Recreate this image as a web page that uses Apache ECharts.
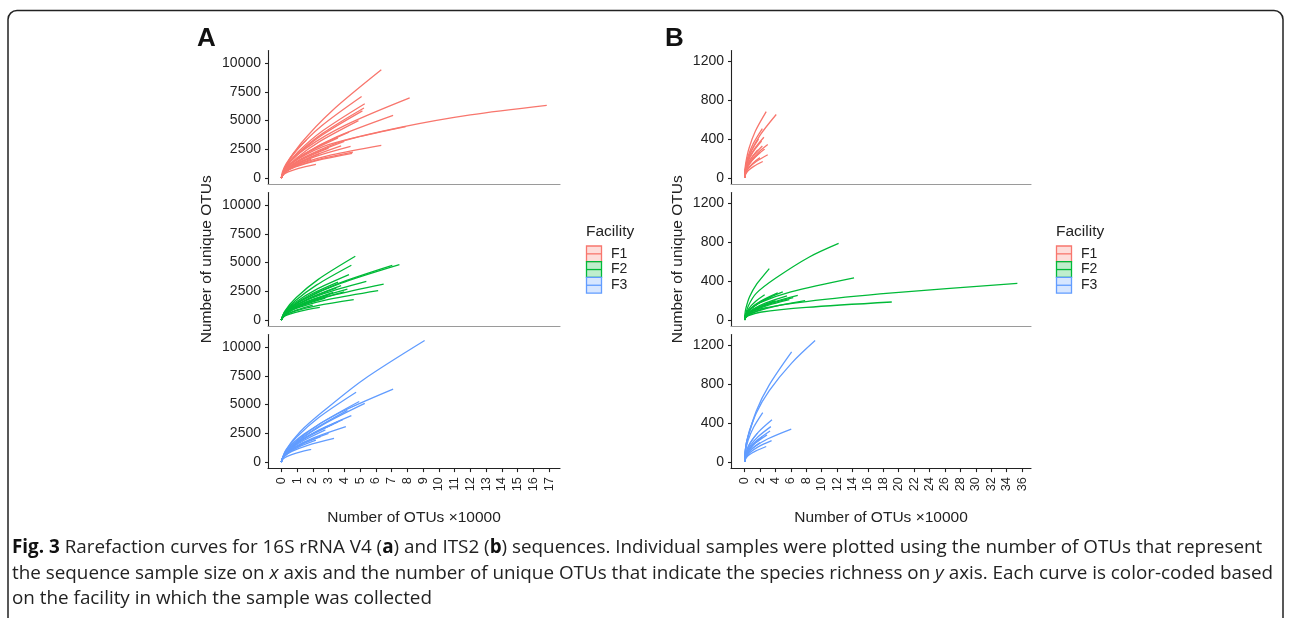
<!DOCTYPE html>
<html>
<head>
<meta charset="utf-8">
<script src="https://cdn.jsdelivr.net/npm/echarts@6/dist/echarts.min.js"></script>
<style>
html,body{margin:0;padding:0;background:#fff;}
#chart{width:1290px;height:618px;}
</style>
</head>
<body>
<div id="chart"></div>
<script>
// ---------- DATA ----------
const facilities = ['F1', 'F2', 'F3'];
const facilityColors = ['#F8766D', '#00BA38', '#619CFF'];

// Panel A: 16S rRNA V4 — each curve is a list of [OTUs ×10000, unique OTUs] (origin added at draw time)
const A_F1 = [
  [[0.32,1160],[1.27,3050],[3.18,5800],[6.35,9420]],
  [[0.26,1020],[1.02,2480],[2.55,4530],[5.1,7100]],
  [[0.41,1180],[1.63,2650],[4.08,4600],[8.15,6970]],
  [[0.27,930],[1.06,2260],[2.65,4130],[5.3,6470]],
  [[0.26,880],[1.05,2130],[2.63,3890],[5.25,6100]],
  [[0.26,840],[1.03,2040],[2.58,3730],[5.15,5850]],
  [[0.36,920],[1.42,2070],[3.55,3600],[7.1,5450]],
  [[0.3,800],[1.0,1600],[3.0,2900],[7.7,4450],[12.0,5500],[16.85,6330]],
  [[0.4,850],[1.6,1900],[4.0,3250],[7.9,4480]],
  [[0.22,680],[0.86,1520],[2.15,2640],[4.3,4000]],
  [[0.32,640],[1.27,1270],[3.18,2010],[6.35,2850]],
  [[0.22,530],[0.88,1130],[2.2,1880],[4.4,2750]],
  [[0.23,500],[0.91,1010],[2.28,1590],[4.55,2250]],
  [[0.23,480],[0.9,960],[2.25,1520],[4.5,2150]],
  [[0.11,270],[0.44,530],[1.1,840],[2.2,1190]],
  [[0.18,600],[0.72,1330],[1.8,2310],[3.6,3500]],
  [[0.15,440],[0.6,990],[1.5,1720],[3.0,2600]],
  [[0.12,360],[0.48,800],[1.2,1390],[2.4,2100]],
  [[0.1,280],[0.38,630],[0.95,1090],[1.9,1650]],
  [[0.2,540],[0.8,1220],[2.0,2110],[4.0,3200]],
  [[0.25,710],[0.98,1750],[2.45,3190],[4.9,5000]],
  [[0.08,560],[0.32,1260],[0.8,2180],[1.6,3300]],
  [[0.19,470],[0.76,1070],[1.9,1850],[3.8,2800]]
];
const A_F2 = [
  [[0.24,800],[0.94,1940],[2.35,3540],[4.7,5550]],
  [[0.22,690],[0.89,1670],[2.23,3040],[4.45,4770]],
  [[0.38,810],[1.5,1830],[3.75,3180],[7.5,4820]],
  [[0.35,800],[1.41,1810],[3.53,3130],[7.05,4750]],
  [[0.22,670],[0.86,1500],[2.15,2610],[4.3,3950]],
  [[0.27,650],[1.08,1390],[2.7,2300],[5.4,3370]],
  [[0.33,600],[1.3,1290],[3.25,2140],[6.5,3130]],
  [[0.31,570],[1.23,1140],[3.08,1810],[6.15,2560]],
  [[0.23,400],[0.92,800],[2.3,1260],[4.6,1780]],
  [[0.12,250],[0.49,490],[1.23,780],[2.45,1100]],
  [[0.21,520],[0.84,1110],[2.1,1840],[4.2,2700]],
  [[0.18,470],[0.7,1070],[1.75,1850],[3.5,2800]],
  [[0.15,420],[0.6,900],[1.5,1500],[3.0,2200]],
  [[0.14,360],[0.56,780],[1.4,1290],[2.8,1900]],
  [[0.19,510],[0.76,1140],[1.9,1980],[3.8,3000]],
  [[0.1,250],[0.4,530],[1.0,880],[2.0,1300]],
  [[0.2,470],[0.8,1010],[2.0,1670],[4.0,2450]],
  [[0.17,410],[0.66,910],[1.65,1580],[3.3,2400]],
  [[0.18,560],[0.72,1260],[1.8,2180],[3.6,3300]]
];
const A_F3 = [
  [[0.3,1050],[1.2,2640],[2.64,4390],[5.19,7150],[9.1,10580]],
  [[0.36,1060],[1.42,2410],[3.55,4180],[7.1,6340]],
  [[0.24,870],[0.95,2130],[2.38,3880],[4.75,6080]],
  [[0.25,760],[0.99,1840],[2.48,3360],[4.95,5270]],
  [[0.27,730],[1.06,1780],[2.65,3250],[5.3,5100]],
  [[0.22,680],[0.89,1540],[2.23,2670],[4.45,4040]],
  [[0.21,600],[0.82,1270],[2.05,2100],[4.1,3080]],
  [[0.17,460],[0.67,920],[1.68,1460],[3.35,2060]],
  [[0.1,250],[0.38,490],[0.95,780],[1.9,1100]],
  [[0.18,600],[0.72,1330],[1.8,2310],[3.6,3500]],
  [[0.17,560],[0.66,1260],[1.65,2180],[3.3,3300]],
  [[0.14,480],[0.56,1070],[1.4,1850],[2.8,2800]],
  [[0.15,480],[0.6,1030],[1.5,1710],[3.0,2500]],
  [[0.13,420],[0.5,910],[1.25,1500],[2.5,2200]],
  [[0.2,630],[0.78,1410],[1.95,2440],[3.9,3700]],
  [[0.11,360],[0.44,790],[1.1,1300],[2.2,1900]],
  [[0.21,650],[0.84,1570],[2.1,2860],[4.2,4500]]
];

// Panel B: ITS2
const B_F1 = [
  [[0.03,70],[0.14,155],[0.56,305],[1.4,485],[2.8,685]],
  [[0.04,52],[0.21,125],[0.82,270],[2.05,447],[4.1,655]],
  [[0.02,51],[0.12,115],[0.46,228],[1.15,360],[2.3,510]],
  [[0.03,42],[0.13,94],[0.5,188],[1.25,297],[2.5,420]],
  [[0.03,35],[0.15,77],[0.6,154],[1.5,244],[3.0,345]],
  [[0.02,33],[0.12,74],[0.46,148],[1.15,233],[2.3,330]],
  [[0.03,24],[0.15,54],[0.6,107],[1.5,170],[3.0,240]],
  [[0.02,17],[0.12,38],[0.47,76],[1.18,120],[2.35,170]],
  [[0.02,21],[0.1,47],[0.4,94],[1.0,148],[2.0,210]],
  [[0.02,40],[0.09,90],[0.36,179],[0.9,283],[1.8,400]],
  [[0.02,38],[0.11,85],[0.44,170],[1.1,269],[2.2,380]],
  [[0.02,29],[0.09,65],[0.34,130],[0.85,205],[1.7,290]],
  [[0.03,30],[0.13,67],[0.52,134],[1.3,212],[2.6,300]],
  [[0.02,26],[0.1,58],[0.4,116],[1.0,184],[2.0,260]]
];
const B_F2 = [
  [[0.1,50],[0.5,150],[1.5,275],[4.0,430],[8.4,650],[12.2,790]],
  [[0.03,55],[0.16,120],[0.64,240],[1.6,375],[3.2,530]],
  [[0.1,40],[0.5,100],[2.0,180],[6.0,290],[14.2,435]],
  [[0.1,30],[0.5,70],[2.0,115],[8.0,190],[19.2,279],[35.4,378]],
  [[0.1,20],[0.5,45],[2.0,80],[8.0,130],[19.1,186]],
  [[0.08,20],[0.39,45],[1.57,89],[3.93,141],[7.85,200]],
  [[0.07,26],[0.35,57],[1.38,114],[3.45,180],[6.9,255]],
  [[0.05,29],[0.25,65],[0.99,130],[2.48,205],[4.95,290]],
  [[0.04,28],[0.22,63],[0.86,125],[2.15,198],[4.3,280]],
  [[0.03,26],[0.13,58],[0.52,116],[1.3,184],[2.6,260]],
  [[0.06,23],[0.32,51],[1.26,103],[3.15,163],[6.3,230]],
  [[0.06,21],[0.29,47],[1.16,94],[2.9,148],[5.8,210]],
  [[0.04,20],[0.2,45],[0.8,89],[2.0,141],[4.0,200]],
  [[0.04,24],[0.18,54],[0.7,107],[1.75,170],[3.5,240]],
  [[0.02,18],[0.1,40],[0.4,80],[1.0,127],[2.0,180]],
  [[0.06,25],[0.28,56],[1.1,112],[2.75,177],[5.5,250]],
  [[0.03,13],[0.15,29],[0.6,58],[1.5,92],[3.0,130]]
];
const B_F3 = [
  [[0.05,95],[0.3,222],[1.5,503],[3.2,737],[6.1,1020],[9.15,1252]],
  [[0.05,90],[0.3,217],[1.5,524],[3.2,795],[6.1,1135]],
  [[0.02,51],[0.12,114],[0.47,228],[1.18,361],[2.35,510]],
  [[0.04,44],[0.18,97],[0.71,195],[1.78,308],[3.55,435]],
  [[0.06,34],[0.3,76],[1.21,152],[3.03,240],[6.05,340]],
  [[0.03,37],[0.17,82],[0.68,163],[1.7,258],[3.4,365]],
  [[0.03,32],[0.17,72],[0.66,143],[1.65,226],[3.3,320]],
  [[0.04,22],[0.18,49],[0.7,98],[1.75,156],[3.5,220]],
  [[0.03,16],[0.14,36],[0.56,72],[1.4,113],[2.8,160]],
  [[0.02,20],[0.1,45],[0.4,89],[1.0,141],[2.0,200]],
  [[0.01,45],[0.06,100],[0.24,200],[0.6,318],[1.2,450]],
  [[0.02,30],[0.09,67],[0.34,134],[0.85,212],[1.7,300]],
  [[0.02,26],[0.12,58],[0.46,116],[1.15,184],[2.3,260]],
  [[0.03,28],[0.15,63],[0.58,125],[1.45,198],[2.9,280]]
];

const A_xTicks = [0,1,2,3,4,5,6,7,8,9,10,11,12,13,14,15,16,17];
const A_yTicks = [0,2500,5000,7500,10000];
const B_xTicks = [0,2,4,6,8,10,12,14,16,18,20,22,24,26,28,30,32,34,36];
const B_yTicks = [0,400,800,1200];

const yTitle = 'Number of unique OTUs';
const xTitle = 'Number of OTUs ×10000';
const captionLines = [
  '{b|Fig. 3} Rarefaction curves for 16S rRNA V4 ({b|a}) and ITS2 ({b|b}) sequences. Individual samples were plotted using the number of OTUs that represent',
  'the sequence sample size on {i|x} axis and the number of unique OTUs that indicate the species richness on {i|y} axis. Each curve is color-coded based',
  'on the facility in which the sample was collected'
];

// ---------- LAYOUT ----------
const FONT = 'Liberation Sans, Arial, sans-serif';
const CAP_FONT = 'Open Sans, Noto Sans, sans-serif';
const panelTops = [50.5, 192.5, 334.5];
const panelH = 133.6;
const A_left = 268, A_w = 292;
const B_left = 731, B_w = 300;
const A_xRange = [-0.84, 17.69], A_yRange = [-529, 11104];
const B_xRange = [-1.77, 37.17], B_yRange = [-62.6, 1314.6];

const grids = [], xAxes = [], yAxes = [], series = [];

function addPanel(left, w, idx, xr, yr, xt, yt, isBottom, isMiddle) {
  grids.push({left: left, top: panelTops[idx % 3], width: w, height: panelH, containLabel: false});
  const gi = grids.length - 1;
  xAxes.push({
    type: 'value', gridIndex: gi, min: xr[0], max: xr[1],
    axisLine: {show: true, onZero: false, lineStyle: {color: isBottom ? '#222' : '#9a9a9a', width: 1.1}},
    axisTick: {show: isBottom, length: 4, customValues: xt, lineStyle: {color: '#222', width: 1.1}},
    axisLabel: {show: isBottom, customValues: xt, rotate: 90, margin: 9, fontSize: 12.8, color: '#222', fontFamily: FONT,
      formatter: v => String(v)},
    splitLine: {show: false},
    name: isBottom ? xTitle : '', nameLocation: 'middle', nameGap: 42,
    nameTextStyle: {fontSize: 15.5, color: '#222', fontFamily: FONT}
  });
  yAxes.push({
    type: 'value', gridIndex: gi, min: yr[0], max: yr[1],
    axisLine: {show: true, onZero: false, lineStyle: {color: '#222', width: 1.1}},
    axisTick: {show: true, length: 3, customValues: yt, lineStyle: {color: '#222', width: 1.1}},
    axisLabel: {customValues: yt, margin: 7, fontSize: 14, color: '#222', fontFamily: FONT,
      formatter: v => String(v)},
    splitLine: {show: false},
    name: isMiddle ? yTitle : '', nameLocation: 'middle', nameGap: 0,
    nameTextStyle: {fontSize: 15.5, color: '#222', fontFamily: FONT}
  });
  return gi;
}

function addCurves(curves, color, gi) {
  curves.forEach(c => {
    series.push({
      type: 'line', xAxisIndex: gi, yAxisIndex: gi,
      data: [[0, 0]].concat(c),
      showSymbol: false, smooth: 0.3,
      lineStyle: {width: 1.3, color: color}, itemStyle: {color: color},
      silent: true, animation: false
    });
  });
}

const Acurves = [A_F1, A_F2, A_F3];
const Bcurves = [B_F1, B_F2, B_F3];
for (let i = 0; i < 3; i++) {
  const gi = addPanel(A_left, A_w, i, A_xRange, A_yRange, A_xTicks, A_yTicks, i === 2, i === 1);
  if (i === 1) yAxes[gi].nameGap = 53;
  addCurves(Acurves[i], facilityColors[i], gi);
}
for (let i = 0; i < 3; i++) {
  const gi = addPanel(B_left, B_w, i, B_xRange, B_yRange, B_xTicks, B_yTicks, i === 2, i === 1);
  if (i === 1) yAxes[gi].nameGap = 45;
  addCurves(Bcurves[i], facilityColors[i], gi);
}

// legend (drawn as graphic keys)
function legendGraphic(lx) {
  const els = [{type: 'text', x: lx, y: 232, style: {text: 'Facility', fontSize: 15.5, fill: '#222', fontFamily: FONT, verticalAlign: 'middle'}}];
  const kh = 15.7, kw = 15, ky = 246;
  facilities.forEach((f, i) => {
    const c = facilityColors[i];
    els.push({type: 'rect', shape: {x: lx + 0.5, y: ky + i * kh, width: kw, height: kh},
      style: {fill: echarts.color.modifyAlpha(c, 0.25), stroke: c, lineWidth: 1.3}});
    els.push({type: 'line', shape: {x1: lx + 0.5, y1: ky + i * kh + kh / 2, x2: lx + 0.5 + kw, y2: ky + i * kh + kh / 2},
      style: {stroke: c, lineWidth: 1.3}});
    els.push({type: 'text', x: lx + 25, y: ky + i * kh + kh / 2,
      style: {text: f, fontSize: 14, fill: '#222', fontFamily: FONT, verticalAlign: 'middle'}});
  });
  return els;
}

const graphic = [
  {type: 'rect', shape: {x: 8, y: 10.5, width: 1275, height: 640, r: 9}, style: {fill: 'none', stroke: '#222', lineWidth: 1.5}, silent: true},
  {type: 'text', x: 197, y: 26, style: {text: 'A', fontSize: 26, fontWeight: 'bold', fill: '#111', fontFamily: FONT}},
  {type: 'text', x: 665, y: 26, style: {text: 'B', fontSize: 26, fontWeight: 'bold', fill: '#111', fontFamily: FONT}}
].concat(legendGraphic(586), legendGraphic(1056));

const capSize = 18.85;
captionLines.forEach((ln, i) => {
  graphic.push({type: 'text', x: 12, y: 548 + i * 25.5,
    style: {text: ln, fontSize: capSize, fill: '#222', fontFamily: CAP_FONT, verticalAlign: 'middle',
      rich: {b: {fontWeight: 'bold', fontSize: capSize, fill: '#111', fontFamily: CAP_FONT},
             i: {fontStyle: 'italic', fontSize: capSize, fill: '#222', fontFamily: CAP_FONT}}}});
});

const chart = echarts.init(document.getElementById('chart'), null, {renderer: 'canvas'});
chart.setOption({
  backgroundColor: '#fff',
  animation: false,
  grid: grids, xAxis: xAxes, yAxis: yAxes, series: series,
  graphic: graphic
});
</script>
</body>
</html>
